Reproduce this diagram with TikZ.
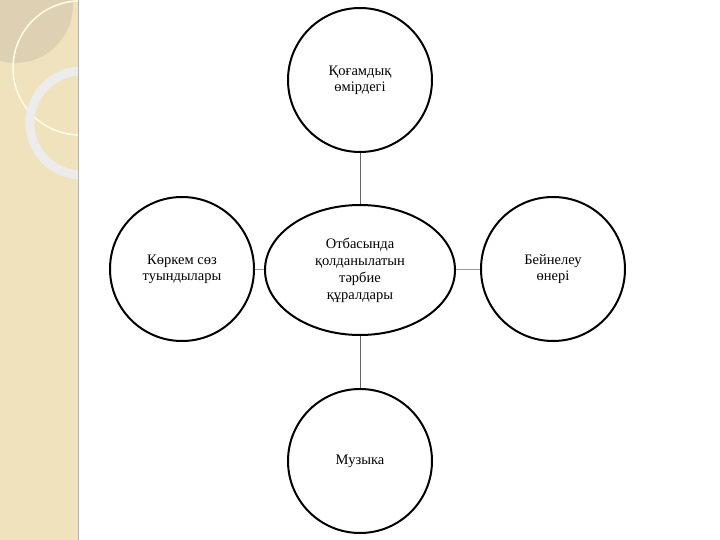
\documentclass[tikz,border=0pt]{standalone}
\usepackage{fontspec}
\setmainfont{Liberation Serif}
\usetikzlibrary{shapes.geometric}
\definecolor{strip}{RGB}{240,226,188}
\definecolor{stripdark}{RGB}{222,208,178}
\begin{document}
\begin{tikzpicture}[x=1pt,y=-1pt,
  bub/.style={draw=black,line width=2pt,circle,minimum size=144pt,align=center,font=\fontsize{14.5}{16}\selectfont,fill=white},
  link/.style={draw=black!60,line width=0.5pt}]
\useasboundingbox (0,0) rectangle (720,540);
\fill[white] (0,0) rectangle (720,540);
\begin{scope}
\clip (0,0) rectangle (78,540);
\fill[strip] (0,0) rectangle (78,540);
\fill[stripdark] (15,5) circle (58);
\draw[white!90!yellow,line width=1.5pt] (80,68) circle (67);
\draw[white!85!gray,line width=9pt] (82,123) circle (52);
\end{scope}
\draw[gray!60,line width=1pt] (78,0) -- (78,540);
\node[bub] (top) at (360,80) {Қоғамдық\\өмірдегі};
\node[bub] (left) at (182,269) {Көркем сөз\\туындылары};
\node[bub] (right) at (553,269) {Бейнелеу\\өнері};
\node[bub] (bot) at (360,461) {Музыка};
\node[draw=black,line width=2pt,ellipse,minimum width=190pt,minimum height=130pt,inner sep=0pt,align=center,font=\fontsize{14.5}{17}\selectfont,fill=white] (c) at (360,270) {Отбасында\\қолданылатын\\тәрбие\\құралдары};
\draw[link] (c) -- (top);
\draw[link] (c) -- (left);
\draw[link] (c) -- (right);
\draw[link] (c) -- (bot);
\end{tikzpicture}
\end{document}
